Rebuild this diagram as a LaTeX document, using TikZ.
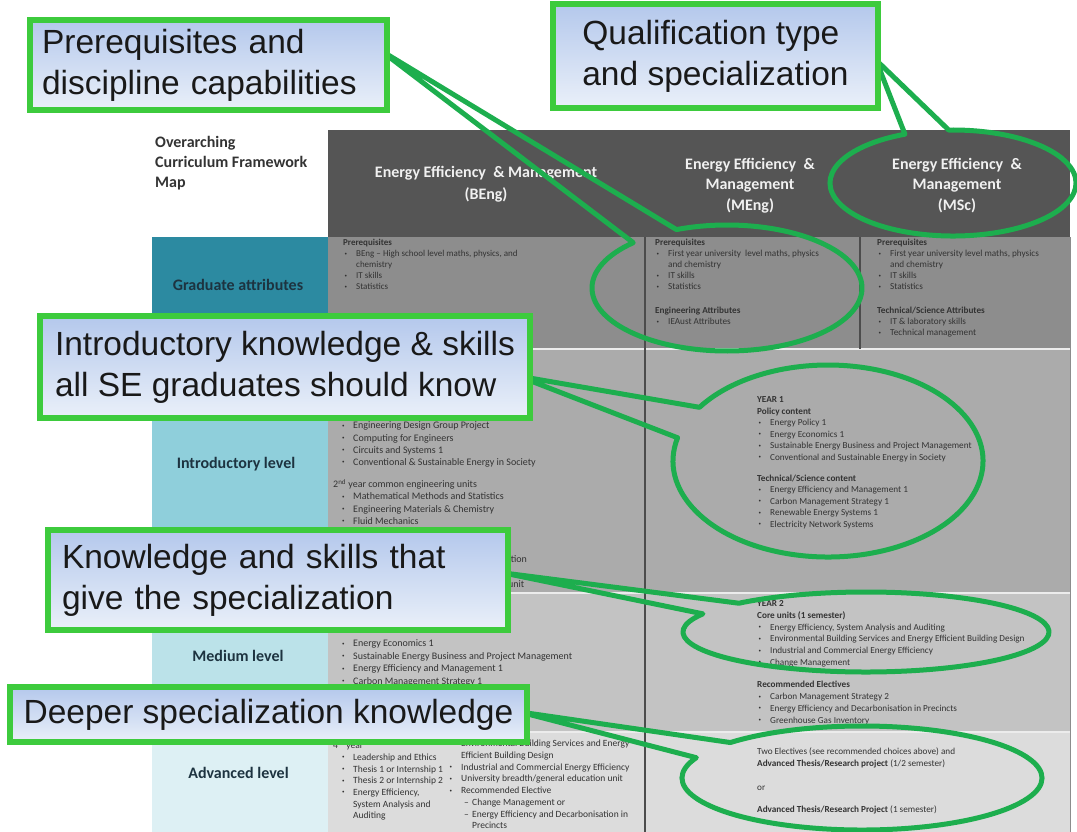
\documentclass[tikz,border=0pt]{standalone}
\usepackage{fontspec}
\setmainfont{Carlito}
\newfontfamily\calloutfont{Liberation Sans}

\definecolor{headgray}{HTML}{555555}
\definecolor{gradcell}{HTML}{8D8D8D}
\definecolor{introcell}{HTML}{ABABAB}
\definecolor{medcell}{HTML}{C3C3C3}
\definecolor{advcell}{HTML}{DCDCDC}
\definecolor{gradlab}{HTML}{2C8AA1}
\definecolor{introlab}{HTML}{8FCFDB}
\definecolor{medlab}{HTML}{BBE2E9}
\definecolor{advlab}{HTML}{DDF0F4}
\definecolor{labtext}{HTML}{1D3340}
\definecolor{boxgreen}{HTML}{3DCB3D}
\definecolor{bubgreen}{HTML}{1DAE4E}
\definecolor{boxtop}{HTML}{B4C8EC}
\definecolor{boxbottom}{HTML}{EAF0F9}

\newcommand{\dotmark}{\raisebox{0.35ex}{\fontsize{5}{5}\selectfont\textbullet}}
\newcommand{\bul}{\makebox[13pt][l]{\hspace{1.5pt}\dotmark}}
\newcommand{\lbul}{\makebox[20pt][l]{\hspace{9pt}\dotmark}}
\newcommand{\ind}{\hspace*{13pt}}
\newcommand{\sdash}{\makebox[11pt][l]{\hspace{3pt}–}}

\begin{document}
\begin{tikzpicture}[x=1pt, y=1pt,
  rowlab/.style={font=\fontsize{16}{20}\selectfont\bfseries, text=labtext, align=center},
  colhead/.style={font=\fontsize{16}{21.5}\selectfont\bfseries, text=white!94!black, align=center},
  cellitems/.style={anchor=north west, inner sep=0pt, align=left, text=black!80, font=\fontsize{9.2}{11.6}\selectfont},
  callout/.style={draw=boxgreen, line width=6pt, top color=boxtop, bottom color=boxbottom, inner sep=0pt, align=left, text=black!90, font=\calloutfont\fontsize{33.5}{41}\selectfont},
  bubble/.style={draw=bubgreen, line width=5pt, line join=round}]
  \useasboundingbox (0,0) rectangle (1077,-832);

  % table
  \fill[headgray] (328,-130) rectangle (1070,-237);
  \fill[gradlab] (152,-237) rectangle (328,-349);
  \fill[gradcell] (328,-237) rectangle (1070,-349);
  \fill[introlab] (152,-349) rectangle (328,-593);
  \fill[introcell] (328,-349) rectangle (1070,-593);
  \fill[medlab] (152,-593) rectangle (328,-732);
  \fill[medcell] (328,-593) rectangle (1070,-732);
  \fill[advlab] (152,-732) rectangle (328,-832);
  \fill[advcell] (328,-732) rectangle (1070,-832);
  \draw[white!85!gray, line width=1.2pt] (152,-349) -- (1070,-349);
  \draw[white!85!gray, line width=1.2pt] (152,-593) -- (1070,-593);
  \draw[white!85!gray, line width=1.2pt] (152,-732) -- (1070,-732);
  \draw[black!70, line width=1.5pt] (645,-237) -- (645,-832);
  \draw[black!70, line width=1.5pt] (860,-237) -- (860,-349);
  \draw[black!45, line width=1pt] (1070,-237) -- (1070,-832);

  \draw (155.0pt, -136.0pt)node[anchor=north west, inner sep=0pt, align=left, text=black!80, font=\fontsize{16}{20}\selectfont\bfseries](maptitle){Overarching\\Curriculum Framework\\Map};
  \draw (486.0pt, -184.0pt)node[colhead](hbeng){Energy Efficiency \ \& Management\\(BEng)};
  \draw (750.0pt, -185.5pt)node[colhead, font=\fontsize{16}{20.5}\selectfont\bfseries](hmeng){Energy Efficiency \ \&\\Management\\(MEng)};
  \draw (957.0pt, -185.5pt)node[colhead, font=\fontsize{16}{20.5}\selectfont\bfseries](hmsc){Energy Efficiency \ \&\\Management\\(MSc)};

  \draw (238.0pt, -285.0pt)node[rowlab](lgrad){Graduate attributes};
  \draw (236.0pt, -464.0pt)node[rowlab](lintro){Introductory level};
  \draw (238.0pt, -656.0pt)node[rowlab](lmed){Medium level};
  \draw (238.5pt, -773.0pt)node[rowlab](ladv){Advanced level};

  % graduate attributes row
  \draw (343.0pt, -239.0pt)node[cellitems, font=\fontsize{9}{11}\selectfont](pbeng){\textbf{Prerequisites}\\\bul BEng – High school level maths, physics, and\\\ind chemistry\\\bul IT skills\\\bul Statistics};
  \draw (655.0pt, -239.0pt)node[cellitems, font=\fontsize{9.2}{11}\selectfont](pmeng){\textbf{Prerequisites}\\\bul First year university \ level maths, physics\\\ind and chemistry\\\bul IT skills\\\bul Statistics\\[13pt]\textbf{Engineering Attributes}\\\bul IEAust Attributes};
  \draw (877.0pt, -239.0pt)node[cellitems, font=\fontsize{9.2}{11}\selectfont](pmsc){\textbf{Prerequisites}\\\bul First year university level maths, physics\\\ind and chemistry\\\bul IT skills\\\bul Statistics\\[13pt]\textbf{Technical/Science Attributes}\\\bul IT \& laboratory skills\\\bul Technical management};

  % introductory row
  \draw (333.0pt, -421.8pt)node[cellitems, font=\fontsize{10}{12.2}\selectfont](ibeng){\lbul Engineering Design Group Project\\\lbul Computing for Engineers\\\lbul Circuits and Systems 1\\\lbul Conventional \& Sustainable Energy in Society\\[10pt]2\textsuperscript{nd} year common engineering units\\\lbul Mathematical Methods and Statistics\\\lbul Engineering Materials \& Chemistry\\\lbul Fluid Mechanics};
  \draw (506.0pt, -559.0pt)node[anchor=west, inner sep=0pt, text=black!80, font=\fontsize{10}{12}\selectfont](frag1){ation};
  \draw (508.0pt, -584.0pt)node[anchor=west, inner sep=0pt, text=black!80, font=\fontsize{10}{12}\selectfont](frag2){unit};
  \draw (757.0pt, -396.7pt)node[cellitems, font=\fontsize{9.2}{11.5}\selectfont](iyear){\textbf{YEAR 1}\\\textbf{Policy content}\\\bul Energy Policy 1\\\bul Energy Economics 1\\\bul Sustainable Energy Business and Project Management\\\bul Conventional and Sustainable Energy in Society\\[9.5pt]\textbf{Technical/Science content}\\\bul Energy Efficiency and Management 1\\\bul Carbon Management Strategy 1\\\bul Renewable Energy Systems 1\\\bul Electricity Network Systems};

  % medium row
  \draw (333.0pt, -639.8pt)node[cellitems, font=\fontsize{10}{12.5}\selectfont](mbeng){\lbul Energy Economics 1\\\lbul Sustainable Energy Business and Project Management\\\lbul Energy Efficiency and Management 1\\\lbul Carbon Management Strategy 1};
  \draw (757.0pt, -600.2pt)node[cellitems, font=\fontsize{9.2}{11.8}\selectfont](myear){\textbf{YEAR 2}\\\textbf{Core units (1 semester)}\\\bul Energy Efficiency, System Analysis and Auditing\\\bul Environmental Building Services and Energy Efficient Building Design\\\bul Industrial and Commercial Energy Efficiency\\\bul Change Management\\[10.5pt]\textbf{Recommended Electives}\\\bul Carbon Management Strategy 2\\\bul Energy Efficiency and Decarbonisation in Precincts\\\bul Greenhouse Gas Inventory};

  % advanced row
  \draw (333.0pt, -740.0pt)node[cellitems, font=\fontsize{9.5}{11.7}\selectfont](abeng){4\textsuperscript{th} year\\\lbul Leadership and Ethics\\\lbul Thesis 1 or Internship 1\\\lbul Thesis 2 or Internship 2\\\lbul Energy Efficiency,\\\hspace*{20pt}System Analysis and\\\hspace*{20pt}Auditing};
  \draw (448.0pt, -740.0pt)node[cellitems, font=\fontsize{9.5}{11.7}\selectfont](abeng2){\bul Environmental Building Services and Energy\\\ind Efficient Building Design\\\bul Industrial and Commercial Energy Efficiency\\\bul University breadth/general education unit\\\bul Recommended Elective\\\ind\sdash Change Management or\\\ind\sdash Energy Efficiency and Decarbonisation in\\\ind\hspace*{11pt}Precincts};
  \draw (757.0pt, -748.0pt)node[cellitems, font=\fontsize{9.2}{12}\selectfont](ayear){Two Electives (see recommended choices above) and\\\textbf{Advanced Thesis/Research project} (1/2 semester)\\[12pt]or\\[10pt]\textbf{Advanced Thesis/Research Project} (1 semester)};

  % speech bubbles
  \coordinate (ellA) at (727pt,-288pt);
  \coordinate (tipA) at (380pt,-50pt);
  \coordinate (ellB) at (953pt,-183pt);
  \coordinate (tipB) at (876pt,-60pt);
  \coordinate (ellC) at (828pt,-461pt);
  \coordinate (tipC) at (518pt,-376pt);
  \coordinate (ellD) at (866pt,-632pt);
  \coordinate (tipD) at (504pt,-573pt);
  \coordinate (ellE) at (862pt,-778pt);
  \coordinate (tipE) at (520pt,-712pt);
  \draw[bubble] ([shift={(134:135pt and 63pt)}]ellA) arc[start angle=134, end angle=472, x radius=135pt, y radius=63pt] -- (tipA) -- cycle;
  \draw[bubble] ([shift={(113:123pt and 53pt)}]ellB) arc[start angle=113, end angle=452, x radius=123pt, y radius=53pt] -- (tipB) -- cycle;
  \draw[bubble] ([shift={(166:155pt and 96pt)}]ellC) arc[start angle=166, end angle=506, x radius=155pt, y radius=96pt] -- (tipC) -- cycle;
  \draw[bubble] ([shift={(153:183pt and 40pt)}]ellD) arc[start angle=153, end angle=494, x radius=183pt, y radius=40pt] -- (tipD) -- cycle;
  \draw[bubble] ([shift={(157:180pt and 52pt)}]ellE) arc[start angle=157, end angle=497, x radius=180pt, y radius=52pt] -- (tipE) -- cycle;

  % callout boxes
  \draw (208.5pt, -65.0pt)node[callout, minimum width=357pt, minimum height=90pt, text width=333pt](prereq){Prerequisites and\\discipline capabilities};
  \draw (715.5pt, -56.0pt)node[callout, minimum width=325pt, minimum height=104pt](qualif){Qualification type\\and specialization};
  \draw (285.0pt, -367.0pt)node[callout, minimum width=490pt, minimum height=102pt](introbox){Introductory knowledge \& skills\\all SE graduates should know};
  \draw (278.0pt, -580.0pt)node[callout, minimum width=460pt, minimum height=100pt, text width=432pt](specbox){Knowledge and skills that\\give the specialization};
  \draw (268.5pt, -714.5pt)node[callout, minimum width=517pt, minimum height=55pt](deepbox){Deeper specialization knowledge};
\end{tikzpicture}
\end{document}
